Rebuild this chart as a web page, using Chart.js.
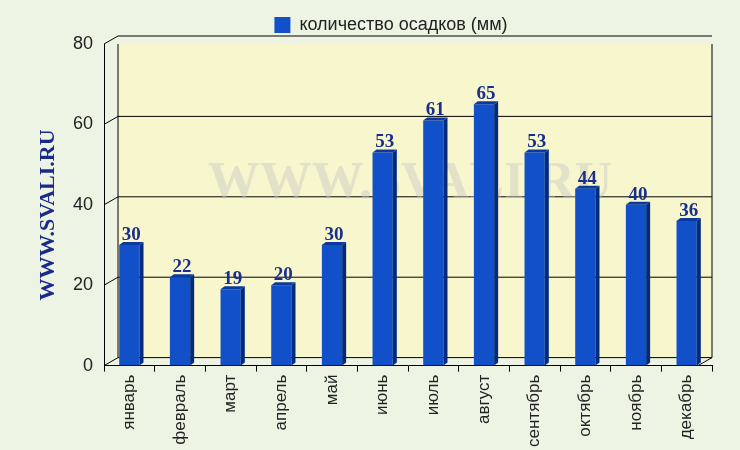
<!DOCTYPE html><html><head><meta charset="utf-8">
<script src="https://cdn.jsdelivr.net/npm/chart.js@4"></script>
<style>body{margin:0;background:#eef4e4}#w{width:740px;height:450px}</style></head><body><div id="w"><canvas id="c"></canvas></div>
<script>
const categories=["январь","февраль","март","апрель","май","июнь","июль","август","сентябрь","октябрь","ноябрь","декабрь"];
const values=[30,22,19,20,30,53,61,65,53,44,40,36];
const yTicks=[0,20,40,60,80];
const deco={id:'deco',beforeDatasetsDraw(ch){const {ctx,chartArea:a}=ch;ctx.save();
ctx.fillStyle='#f8f6cc';ctx.fillRect(a.left+14,a.top,a.right-a.left-14,a.bottom-a.top-8);
ctx.strokeStyle='#000';ctx.lineWidth=1;
ch.scales.y.ticks.forEach(t=>{const y=ch.scales.y.getPixelForValue(t.value);ctx.beginPath();ctx.moveTo(a.left,y);ctx.lineTo(a.left+14,y-8);ctx.lineTo(a.right,y-8);ctx.stroke();});
ctx.beginPath();ctx.moveTo(a.left+14,a.top);ctx.lineTo(a.left+14,a.bottom-8);ctx.stroke();
ctx.beginPath();ctx.moveTo(a.right,a.top);ctx.lineTo(a.right,a.bottom-8);ctx.lineTo(a.right-14,a.bottom);ctx.stroke();
ctx.font='bold 52px "Liberation Serif"';ctx.fillStyle='rgba(200,200,200,0.45)';ctx.textAlign='center';ctx.fillText('WWW.SVALI.RU',410,185);
ctx.restore();},
afterDatasetsDraw(ch){const {ctx}=ch;ctx.save();const m=ch.getDatasetMeta(0);
m.data.forEach((b,i)=>{const w=b.width;ctx.fillStyle='#002a7a';ctx.beginPath();ctx.moveTo(b.x+w/2,b.y);ctx.lineTo(b.x+w/2+4,b.y-3);ctx.lineTo(b.x+w/2+4,b.base-3);ctx.lineTo(b.x+w/2,b.base);ctx.fill();
ctx.fillStyle='#0a3aa0';ctx.beginPath();ctx.moveTo(b.x-w/2,b.y);ctx.lineTo(b.x-w/2+4,b.y-3);ctx.lineTo(b.x+w/2+4,b.y-3);ctx.lineTo(b.x+w/2,b.y);ctx.fill();
ctx.font='bold 19px "Liberation Serif"';ctx.fillStyle='#1a2f8a';ctx.textAlign='center';ctx.fillText(values[i],b.x+2,b.y-10);});
ctx.translate(48,215);ctx.rotate(-Math.PI/2);ctx.font='bold 22px "Liberation Serif"';ctx.fillStyle='#1a2a8c';ctx.textAlign='center';ctx.textBaseline='middle';ctx.fillText('WWW.SVALI.RU',0,0);
ctx.restore();}};
new Chart(document.getElementById('c'),{type:'bar',data:{labels:categories,datasets:[{label:'количество осадков (мм)',data:values,backgroundColor:'#1150c8',barPercentage:0.4,categoryPercentage:1}]},
options:{responsive:true,maintainAspectRatio:false,animation:false,layout:{padding:{left:70,right:28,top:0,bottom:0}},
plugins:{legend:{labels:{font:{size:18,family:'Liberation Sans'},color:'#222',boxWidth:16,boxHeight:16,padding:16}},tooltip:{enabled:false}},
scales:{y:{min:0,max:80,ticks:{stepSize:20,font:{size:18,family:'Liberation Sans'},color:'#222'},grid:{display:false},border:{color:'#000'}},
x:{ticks:{minRotation:90,maxRotation:90,font:{size:17,family:'Liberation Sans'},color:'#222'},grid:{drawOnChartArea:false,color:'#000',tickLength:6},border:{color:'#000'}}}},plugins:[deco]});
</script></body></html>
